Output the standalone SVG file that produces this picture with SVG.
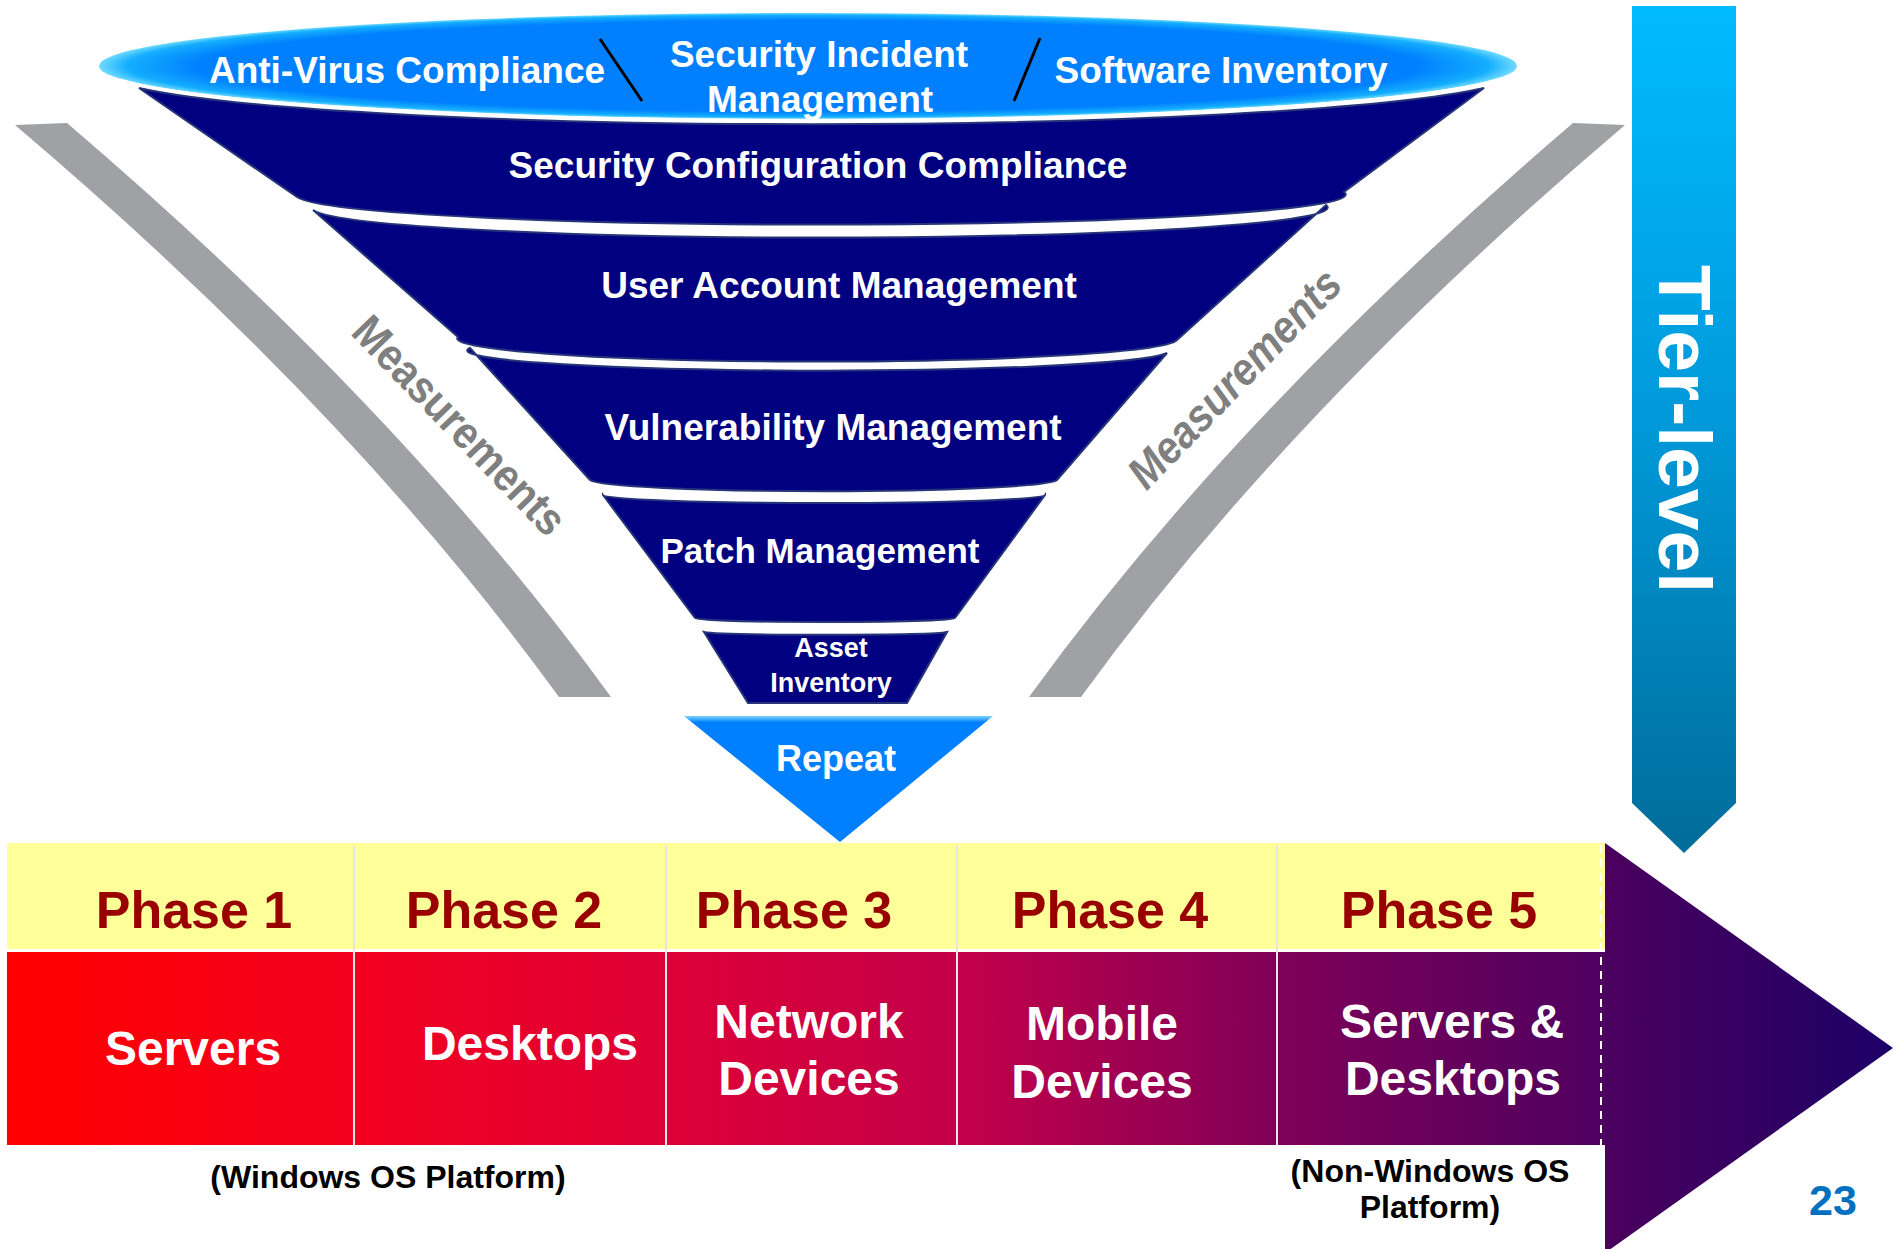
<svg xmlns="http://www.w3.org/2000/svg" width="1893" height="1249" viewBox="0 0 1893 1249">
<defs>
<radialGradient id="gEll" cx="50%" cy="50%" r="50%">
<stop offset="0" stop-color="#0080FF"/>
<stop offset="0.86" stop-color="#0080FF"/>
<stop offset="0.96" stop-color="#14AEFF"/>
<stop offset="1" stop-color="#70DAFF"/>
</radialGradient>
<linearGradient id="gTier" x1="0" y1="0" x2="0" y2="1">
<stop offset="0" stop-color="#00BBFF"/>
<stop offset="0.5" stop-color="#0098D8"/>
<stop offset="1" stop-color="#006C9A"/>
</linearGradient>
<linearGradient id="gRed" gradientUnits="userSpaceOnUse" x1="7" y1="0" x2="1605" y2="0">
<stop offset="0" stop-color="#FF0000"/>
<stop offset="0.22" stop-color="#F2001F"/>
<stop offset="0.41" stop-color="#DE0036"/>
<stop offset="0.6" stop-color="#C2004A"/>
<stop offset="0.8" stop-color="#7E0058"/>
<stop offset="1" stop-color="#4E0060"/>
</linearGradient>
<linearGradient id="gTri" gradientUnits="userSpaceOnUse" x1="1605" y1="0" x2="1893" y2="0">
<stop offset="0" stop-color="#4B005E"/>
<stop offset="1" stop-color="#1C0066"/>
</linearGradient>
<linearGradient id="gRep" x1="0" y1="0" x2="0" y2="1">
<stop offset="0" stop-color="#7FD4FF"/>
<stop offset="0.05" stop-color="#0080FF"/>
<stop offset="1" stop-color="#0080FF"/>
</linearGradient>
<style>
text{font-family:"Liberation Sans",Arial,sans-serif;font-weight:bold}
.w{fill:#FFFFFF}
.band{fill:#000080;stroke:#26347A;stroke-width:2}
.bar{fill:#A0A1A4}
.meas{fill:#7F7F7F}
.ph{fill:#990000;font-size:52px}
.cell{fill:#FFFFFF;font-size:48px}
.note{fill:#000000;font-size:32px}
.div{stroke:#E6E6E6;stroke-width:2}
</style>
</defs>
<rect width="1893" height="1249" fill="#FFFFFF"/>

<g id="measurement-bars">
<path class="bar" d="M15,125 L67,123 Q403,410 611,697 L559,697 Q351,410 15,125 Z"/>
<path class="bar" d="M1625,125 L1573,123 Q1237,410 1029,697 L1081,697 Q1289,410 1625,125 Z"/>
<text class="meas" transform="translate(460,425) rotate(46)" x="0" y="16" font-size="45" text-anchor="middle" textLength="285" lengthAdjust="spacingAndGlyphs">Measurements</text>
<text class="meas" transform="translate(1234,378) rotate(-46)" x="0" y="16" font-size="45" font-style="italic" text-anchor="middle" textLength="285" lengthAdjust="spacingAndGlyphs">Measurements</text>
</g>

<g id="band-security-configuration">
<path class="band" d="M139,88 L297,197 A524 30 0 0 0 1344,192 L1484,88 A709 53 0 0 1 139,88 Z"/>
<text class="w" x="818" y="178" font-size="37" text-anchor="middle">Security Configuration Compliance</text>
</g>

<g id="top-ellipse">
<ellipse cx="808" cy="66" rx="709" ry="53" fill="url(#gEll)"/>
<path d="M120,80 A709 53 0 0 0 1497,80" fill="none" stroke="#FFFFFF" stroke-width="3"/>
<text class="w" x="407" y="83" font-size="37" text-anchor="middle">Anti-Virus Compliance</text>
<text class="w" x="819" y="67" font-size="37" text-anchor="middle">Security Incident</text>
<text class="w" x="820" y="112" font-size="37" text-anchor="middle">Management</text>
<text class="w" x="1221" y="83" font-size="37" text-anchor="middle">Software Inventory</text>
<g id="separators" stroke="#000000" stroke-width="3">
<line x1="600" y1="39" x2="642" y2="101"/>
<line x1="1040" y1="38" x2="1014" y2="101"/>
</g>
</g>

<g id="band-user-account">
<path class="band" d="M313,210 L458,337 A360 23 0 0 0 1177,340 L1326,205 A507 30 0 0 1 313,210 Z"/>
<text class="w" x="839" y="298" font-size="37" text-anchor="middle">User Account Management</text>
</g>

<g id="band-vulnerability">
<path class="band" d="M470,348 L590,480 A234 12 0 0 0 1057,480 L1167,353 A349 20 0 0 1 470,348 Z"/>
<text class="w" x="833" y="440" font-size="37" text-anchor="middle">Vulnerability Management</text>
</g>

<g id="band-patch">
<path class="band" d="M603,495 L695,618 A130 4 0 0 0 955,618 L1045,495 A221 8 0 0 1 603,495 Z"/>
<text class="w" x="820" y="563" font-size="35" text-anchor="middle">Patch Management</text>
</g>

<g id="band-asset">
<path class="band" d="M704,632 L748,703 L907,703 L947,632 A122 3 0 0 1 704,632 Z"/>
<text class="w" x="831" y="657" font-size="27" text-anchor="middle">Asset</text>
<text class="w" x="831" y="692" font-size="27" text-anchor="middle">Inventory</text>
</g>

<g id="repeat">
<path d="M684,716 L993,716 L840,842 Z" fill="url(#gRep)"/>
<text class="w" x="836" y="771" font-size="36" text-anchor="middle">Repeat</text>
</g>

<g id="tier-level">
<path d="M1632,6 L1736,6 L1736,803 L1684,853 L1632,803 Z" fill="url(#gTier)"/>
<text class="w" transform="translate(1659,429) rotate(90)" x="0" y="0" font-size="75" text-anchor="middle">Tier-level</text>
</g>

<g id="phase-arrow">
<path d="M1605,843 L1893,1048 L1605,1253 Z" fill="url(#gTri)"/>
</g>

<g id="phases">
<rect x="7" y="843" width="1598" height="106" fill="#FFFF99"/>
<rect x="7" y="952" width="1598" height="193" fill="url(#gRed)"/>
<line class="div" x1="354" y1="845" x2="354" y2="1145"/>
<line class="div" x1="666" y1="845" x2="666" y2="1145"/>
<line class="div" x1="957" y1="845" x2="957" y2="1145"/>
<line class="div" x1="1277" y1="845" x2="1277" y2="1145"/>
<line x1="1601" y1="845" x2="1601" y2="1145" stroke="#FFFFFF" stroke-width="2" stroke-dasharray="8,6"/>
</g>

<g id="phase-1">
<text class="ph" x="194" y="928" text-anchor="middle">Phase 1</text>
<text class="cell" x="193" y="1065" text-anchor="middle">Servers</text>
</g>
<g id="phase-2">
<text class="ph" x="504" y="928" text-anchor="middle">Phase 2</text>
<text class="cell" x="530" y="1060" text-anchor="middle">Desktops</text>
</g>
<g id="phase-3">
<text class="ph" x="794" y="928" text-anchor="middle">Phase 3</text>
<text class="cell" x="809" y="1038" text-anchor="middle">Network</text>
<text class="cell" x="809" y="1095" text-anchor="middle">Devices</text>
</g>
<g id="phase-4">
<text class="ph" x="1110" y="928" text-anchor="middle">Phase 4</text>
<text class="cell" x="1102" y="1040" text-anchor="middle">Mobile</text>
<text class="cell" x="1102" y="1098" text-anchor="middle">Devices</text>
</g>
<g id="phase-5">
<text class="ph" x="1439" y="928" text-anchor="middle">Phase 5</text>
<text class="cell" x="1452" y="1038" text-anchor="middle">Servers &amp;</text>
<text class="cell" x="1453" y="1095" text-anchor="middle">Desktops</text>
</g>

<g id="notes">
<text class="note" x="388" y="1188" text-anchor="middle">(Windows OS Platform)</text>
<text class="note" x="1430" y="1182" text-anchor="middle">(Non-Windows OS</text>
<text class="note" x="1430" y="1218" text-anchor="middle">Platform)</text>
<text x="1833" y="1215" font-size="43" fill="#0070C0" text-anchor="middle">23</text>
</g>
</svg>
